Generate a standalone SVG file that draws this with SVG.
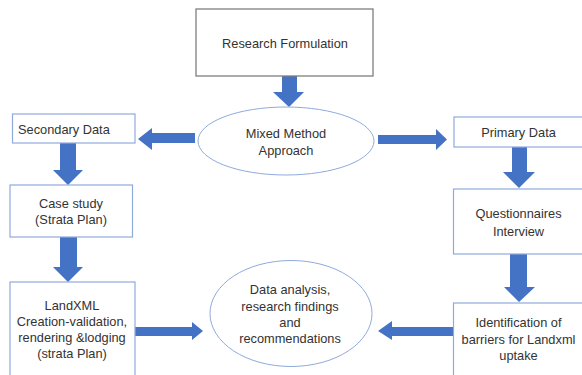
<svg xmlns="http://www.w3.org/2000/svg" width="582" height="375" viewBox="0 0 582 375">
<style>
.box{fill:#fff;stroke:#8faadc;stroke-width:1.2}
.gbox{fill:#fff;stroke:#7f7f7f;stroke-width:1.3}
.ell{fill:#fff;stroke:#8faadc;stroke-width:1}
.t{font-family:"Liberation Sans",Arial,sans-serif;font-size:12.8px;fill:#333;text-anchor:middle;dominant-baseline:central}
.ts{text-anchor:start}
.arr{fill:#4472c4}
</style>
<rect width="582" height="375" fill="#fff"/>
<g id="connectors">
<polygon class="arr" points="282,76 297,76 297,92 304,92 289,107 273,92 282,92"/>
<polygon class="arr" points="195,133 152,133 152,128 138,139 152,150 152,143 195,143"/>
<polygon class="arr" points="378,135 436,135 436,129 447,139.5 436,150 436,144 378,144"/>
<polygon class="arr" points="60,143 76,143 76,170 83,170 68,185 53,170 60,170"/>
<polygon class="arr" points="60,237 77,237 77,267 83,267 68,282 53,267 60,267"/>
<polygon class="arr" points="135,327 192,327 192,322 203,331 192,340 192,336 135,336"/>
<polygon class="arr" points="512,147 527,147 527,172 535,172 519,188 503,172 512,172"/>
<polygon class="arr" points="510,254 527,254 527,287 535,287 519,302 504,287 510,287"/>
<polygon class="arr" points="454,327 392,327 392,321 378,331 392,340 392,336 454,336"/>
</g>
<g id="research">
<rect class="gbox" x="196" y="9" width="177" height="67"/>
<text class="t" x="285" y="43">Research Formulation</text>
</g>
<g id="mixed">
<ellipse class="ell" cx="286" cy="141" rx="88" ry="34"/>
<text class="t" x="286" y="133">Mixed Method</text>
<text class="t" x="286" y="150">Approach</text>
</g>
<g id="secondary">
<rect class="box" x="12.5" y="114" width="122.5" height="29"/>
<text class="t ts" x="18" y="129">Secondary Data</text>
</g>
<g id="primary">
<rect class="box" x="454" y="117" width="140" height="30"/>
<text class="t" x="518.5" y="132.5">Primary Data</text>
</g>
<g id="casestudy">
<rect class="box" x="10" y="185" width="122.5" height="52"/>
<text class="t" x="71" y="203">Case study</text>
<text class="t" x="71" y="219">(Strata Plan)</text>
</g>
<g id="landxml">
<rect class="box" x="10" y="282" width="125" height="100"/>
<text class="t" x="72" y="305">LandXML</text>
<text class="t" x="72" y="321">Creation-validation,</text>
<text class="t" x="72" y="337.5">rendering &amp;lodging</text>
<text class="t" x="72" y="353.5">(strata Plan)</text>
</g>
<g id="questionnaires">
<rect class="box" x="453.5" y="189" width="140" height="65"/>
<text class="t" x="518.5" y="213.5">Questionnaires</text>
<text class="t" x="518.5" y="231">Interview</text>
</g>
<g id="identification">
<rect class="box" x="453.5" y="303" width="140" height="80"/>
<text class="t" x="518.5" y="322.5">Identification of</text>
<text class="t" x="518.5" y="339">barriers for Landxml</text>
<text class="t" x="518.5" y="355">uptake</text>
</g>
<g id="analysis">
<ellipse class="ell" cx="291" cy="313.5" rx="81" ry="53"/>
<text class="t" x="290" y="289.5">Data analysis,</text>
<text class="t" x="290" y="306">research findings</text>
<text class="t" x="290" y="322.5">and</text>
<text class="t" x="290" y="338.5">recommendations</text>
</g>
</svg>
